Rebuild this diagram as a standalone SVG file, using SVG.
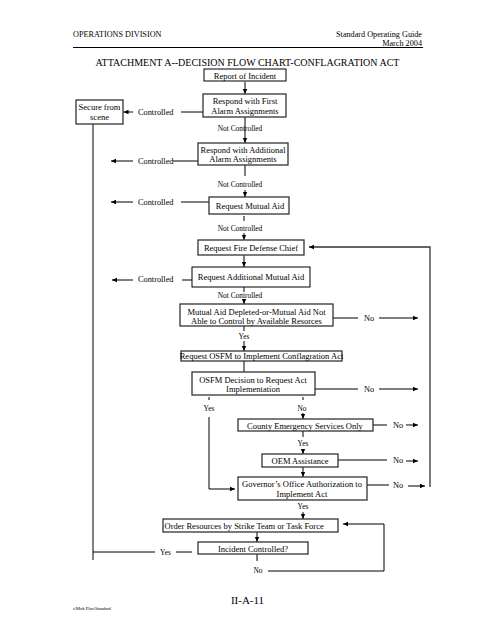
<svg xmlns="http://www.w3.org/2000/svg" width="495" height="640" viewBox="0 0 495 640">
<style>
.t{font-family:"Liberation Serif","Times New Roman",serif;fill:#000}
.b{font-size:8.5px;text-anchor:middle}
.c{font-size:8.3px}
.n{font-size:7.4px;text-anchor:middle}
.box{fill:#fff;stroke:#000;stroke-width:1}
.tk{fill:#fff;stroke:#333;stroke-width:1.3}
.ln{fill:none;stroke:#000;stroke-width:1}
.ar{fill:none;stroke:#000;stroke-width:1;marker-end:url(#ah)}
</style>
<defs>
<marker id="ah" markerUnits="userSpaceOnUse" markerWidth="6" markerHeight="6" refX="5" refY="3" orient="auto">
<path d="M0,0.8 L5,3 L0,5.2 Z" fill="#000"/>
</marker>
</defs>
<rect width="495" height="640" fill="#fff"/>
<g id="header">
<text class="t" x="73" y="37" font-size="8.2">OPERATIONS DIVISION</text>
<text class="t" x="422" y="37" font-size="8.2" text-anchor="end">Standard Operating Guide</text>
<text class="t" x="422" y="46" font-size="8.2" text-anchor="end">March 2004</text>
<line x1="73" y1="47.5" x2="423" y2="47.5" stroke="#000" stroke-width="1"/>
<text class="t" x="247.5" y="66" font-size="10" text-anchor="middle">ATTACHMENT A--DECISION FLOW CHART-CONFLAGRATION ACT</text>
</g>
<g id="connectors">
<line class="ar" x1="245" y1="82" x2="245" y2="94"/>
<line class="ln" x1="181" y1="112" x2="203" y2="112"/>
<line class="ar" x1="133" y1="112" x2="123.5" y2="112"/>
<line class="ar" x1="245" y1="117" x2="245" y2="143"/>
<line class="ar" x1="133" y1="161" x2="111" y2="161"/>
<line class="ln" x1="173" y1="161" x2="198" y2="161"/>
<line class="ln" x1="245" y1="165" x2="245" y2="176"/>
<line class="ar" x1="245" y1="190" x2="245" y2="197"/>
<line class="ar" x1="133" y1="202" x2="111" y2="202"/>
<line class="ln" x1="181" y1="202" x2="209" y2="202"/>
<line class="ln" x1="244" y1="216" x2="244" y2="221"/>
<line class="ar" x1="244" y1="233" x2="244" y2="240"/>
<line class="ar" x1="244" y1="255" x2="244" y2="267"/>
<line class="ar" x1="133" y1="280" x2="112" y2="280"/>
<line class="ln" x1="182" y1="280" x2="192" y2="280"/>
<line class="ln" x1="244" y1="287" x2="244" y2="292"/>
<line class="ar" x1="244" y1="299" x2="244" y2="304"/>
<line class="ln" x1="333" y1="318" x2="358" y2="318"/>
<line class="ar" x1="379" y1="318" x2="418" y2="318"/>
<line class="ln" x1="244" y1="326" x2="244" y2="331"/>
<line class="ar" x1="244" y1="341" x2="244" y2="351"/>
<line class="ln" x1="244" y1="361" x2="244" y2="372"/>
<line class="ln" x1="315" y1="389" x2="358" y2="389"/>
<line class="ar" x1="379" y1="389" x2="418" y2="389"/>
<line class="ln" x1="209" y1="397" x2="209" y2="400"/>
<line class="ln" x1="303" y1="397" x2="303" y2="400"/>
<polyline class="ar" points="209,417 209,489 235,489"/>
<line class="ar" x1="303" y1="413" x2="303" y2="419"/>
<line class="ln" x1="373" y1="425" x2="387" y2="425"/>
<line class="ar" x1="406" y1="425" x2="418" y2="425"/>
<line class="ln" x1="303" y1="431" x2="303" y2="437"/>
<line class="ar" x1="303" y1="449" x2="303" y2="454"/>
<line class="ln" x1="338" y1="460" x2="387" y2="460"/>
<line class="ar" x1="406" y1="461" x2="418" y2="461"/>
<line class="ar" x1="303" y1="467" x2="303" y2="477"/>
<line class="ln" x1="367" y1="485" x2="389" y2="485"/>
<line class="ar" x1="408" y1="486" x2="425" y2="486"/>
<polyline class="ar" points="430,487 430,247 309,247" style="stroke:#333;stroke-width:1.3"/>
<line class="ar" x1="303" y1="512" x2="303" y2="519"/>
<polyline class="ar" points="268,571 384,571 384,524 343,524"/>
<line class="ar" x1="257" y1="532" x2="257" y2="542"/>
<line class="ln" x1="257" y1="554" x2="257" y2="561"/>
<polyline class="ln" points="93,124 93,560"/>
<line class="ln" x1="93" y1="552" x2="155" y2="552"/>
<line class="ln" x1="176" y1="552" x2="192" y2="552"/>
</g>
<g id="n-report"><rect class="box" x="204" y="69" width="82" height="12"/><text class="t b" x="245" y="78.5">Report of Incident</text></g>
<g id="n-first"><rect class="tk" x="203" y="94" width="83" height="23"/><text class="t b" x="245" y="104">Respond with First</text><text class="t b" x="245" y="114">Alarm Assignments</text></g>
<g id="n-secure"><rect class="tk" x="76" y="100" width="47" height="24"/><text class="t b" x="99.5" y="109.5">Secure from</text><text class="t b" x="99.5" y="119.5">scene</text></g>
<g id="l-controlled1"><text class="t c" x="138" y="115">Controlled</text></g>
<g id="l-nc1"><text class="t n" x="240" y="131">Not Controlled</text></g>
<g id="n-additional"><rect class="tk" x="198" y="143" width="90" height="22"/><text class="t b" x="243" y="153">Respond with Additional</text><text class="t b" x="243" y="162">Alarm Assignments</text></g>
<g id="l-controlled2"><text class="t c" x="138" y="164">Controlled</text></g>
<g id="l-nc2"><text class="t n" x="240" y="187">Not Controlled</text></g>
<g id="n-mutual"><rect class="tk" x="209" y="197" width="80" height="17"/><text class="t b" x="250" y="208.5">Request Mutual Aid</text></g>
<g id="l-controlled3"><text class="t c" x="138" y="205">Controlled</text></g>
<g id="l-nc3"><text class="t n" x="240" y="230.5">Not Controlled</text></g>
<g id="n-fdc"><rect class="tk" x="198" y="240" width="106" height="15"/><text class="t b" x="251" y="251">Request Fire Defense Chief</text></g>
<g id="n-addmutual"><rect class="box" x="192" y="267" width="118" height="20"/><text class="t b" x="251" y="280">Request Additional Mutual Aid</text></g>
<g id="l-controlled4"><text class="t c" x="138" y="282">Controlled</text></g>
<g id="l-nc4"><text class="t n" x="240" y="297.5">Not Controlled</text></g>
<g id="n-depleted"><rect class="tk" x="180" y="304" width="153" height="22"/><text class="t b" x="256.5" y="314.5">Mutual Aid Depleted-or-Mutual Aid Not</text><text class="t b" x="256.5" y="324">Able to Control by Available Resorces</text></g>
<g id="l-no1"><text class="t c" x="364" y="321">No</text></g>
<g id="l-yes1"><text class="t n" x="244" y="339">Yes</text></g>
<g id="n-osfm"><rect class="tk" x="181" y="351" width="161" height="10"/><text class="t b" x="261.5" y="359">Request OSFM to Implement Conflagration Act</text></g>
<g id="n-decision"><rect class="tk" x="192" y="372" width="123" height="23"/><text class="t b" x="253" y="382.5">OSFM Decision to Request Act</text><text class="t b" x="253" y="392">Implementation</text></g>
<g id="l-no2"><text class="t c" x="364" y="392">No</text></g>
<g id="l-yes2"><text class="t n" x="209" y="411">Yes</text></g>
<g id="l-no3"><text class="t n" x="302" y="411">No</text></g>
<g id="n-county"><rect class="tk" x="238" y="419" width="135" height="12"/><text class="t b" x="305" y="428.5">County Emergency Services Only</text></g>
<g id="l-no4"><text class="t c" x="393" y="428">No</text></g>
<g id="l-yes3"><text class="t n" x="303" y="446">Yes</text></g>
<g id="n-oem"><rect class="tk" x="262" y="454" width="76" height="13"/><text class="t b" x="300" y="464">OEM Assistance</text></g>
<g id="l-no5"><text class="t c" x="393" y="463">No</text></g>
<g id="n-governor"><rect class="tk" x="238" y="477" width="129" height="23"/><text class="t b" x="302" y="487">Governor’s Office Authorization to</text><text class="t b" x="302" y="496.5">Implement Act</text></g>
<g id="l-no6"><text class="t c" x="393" y="488">No</text></g>
<g id="l-yes4"><text class="t n" x="303" y="509">Yes</text></g>
<g id="n-order"><rect class="tk" x="163" y="519" width="175" height="13"/><text class="t" x="164.5" y="529" font-size="8.5">Order Resources by Strike Team or Task Force</text></g>
<g id="n-incident"><rect class="tk" x="198" y="542" width="110" height="12"/><text class="t b" x="253" y="551.5">Incident Controlled?</text></g>
<g id="l-yes5"><text class="t n" x="165.5" y="555">Yes</text></g>
<g id="l-no7"><text class="t n" x="258" y="573" font-size="6.5">No</text></g>
<g id="footer">
<text class="t" x="247.5" y="604" font-size="11" text-anchor="middle">II-A-11</text>
<text class="t" x="73" y="610" font-size="4.5">s\Mob Plan\Standard</text>
</g>
</svg>
